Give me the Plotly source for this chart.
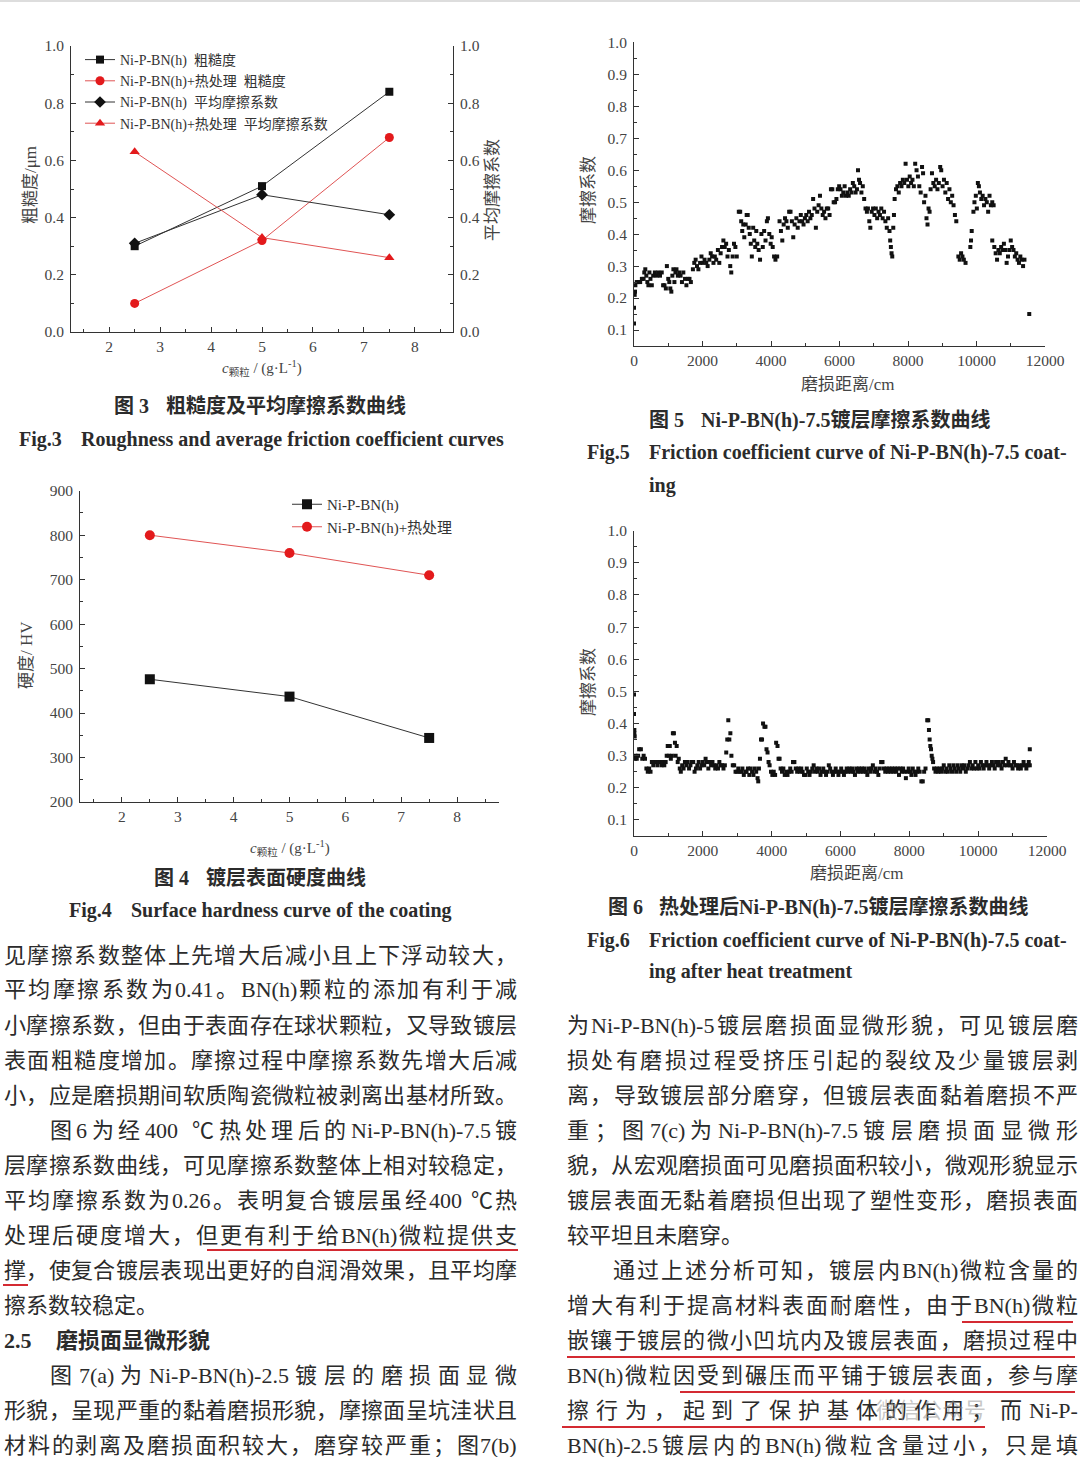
import plotly.graph_objects as go

W, H = 1080, 1457
FONT = "Liberation Serif, Noto Sans CJK SC, serif"
TXT = "#2b2b2b"
AX = "#444444"
RED = "#e31a1c"
RED_LINE = "#e05454"

# === Fig.3 : roughness / average friction coefficient ===
conc = [2.5, 5, 7.5]
rough_raw = [0.30, 0.51, 0.84]
rough_ht = [0.10, 0.32, 0.68]
fric_raw = [0.31, 0.48, 0.41]
fric_ht = [0.63, 0.33, 0.26]

# === Fig.4 : surface hardness ===
hard_raw = [476, 437, 344]
hard_ht = [800, 760, 710]

# === Fig.5 : friction coefficient of Ni-P-BN(h)-7.5 ===
fig5_dist = [
    0, 0, 20, 30, 40, 80, 130, 180, 230, 280,
    300, 330, 360, 390, 420, 450, 480, 520, 560, 610,
    660, 710, 760, 810, 850, 890, 930, 960, 1000, 1030,
    1060, 1090, 1120, 1150, 1180, 1210, 1240, 1280, 1320, 1360,
    1400, 1440, 1490, 1530, 1570, 1620, 1660,
    1720, 1760, 1800, 1840, 1880, 1930, 1970, 2010, 2060, 2110,
    2150, 2200, 2240, 2280, 2320, 2360, 2400, 2450, 2490, 2530,
    2570, 2610, 2650, 2690, 2730, 2770, 2810, 2840, 2880, 2920,
    2960, 3000,
    3060, 3100, 3130, 3160, 3190, 3220, 3260, 3290, 3320, 3350,
    3380, 3410, 3440, 3480, 3510, 3540, 3570, 3600, 3640, 3680,
    3720, 3760, 3800, 3840, 3880, 3910, 3950, 3990, 4020, 4050,
    4090, 4130, 4180,
    4250, 4290, 4330, 4370, 4410, 4450, 4490, 4530, 4570, 4610,
    4650, 4690, 4740, 4780, 4830, 4870, 4910, 4950, 4990, 5030,
    5070, 5110, 5150, 5190, 5230, 5270, 5310, 5350, 5390, 5430,
    5470, 5510, 5550, 5590, 5630, 5670, 5710, 5750, 5790, 5830,
    5870, 5910,
    5950, 5990, 6030, 6070, 6110, 6150, 6190, 6230, 6270, 6310,
    6350, 6390, 6430, 6470, 6510, 6540, 6570, 6600, 6640, 6680,
    6720, 6760, 6800, 6830, 6870, 6900, 6940, 6980, 7020, 7060,
    7100, 7140, 7180, 7220, 7260, 7300, 7340, 7380, 7420, 7460,
    7480, 7500, 7520, 7540, 7570, 7590, 7610,
    7650, 7690, 7730, 7770, 7810, 7850, 7890, 7930, 7970, 8010,
    8050, 8090, 8130, 8170, 8210, 8250, 8290, 8330, 8370, 8410,
    8440, 8470, 8510, 8540, 8570, 8600, 8630, 8660,
    8700, 8740, 8780, 8820, 8860, 8900, 8940, 8970, 9010, 9050,
    9090, 9130, 9170, 9210, 9250, 9290, 9330, 9370, 9410, 9470,
    9510, 9550, 9590, 9630, 9680,
    9820, 9840, 9860, 9910, 9940, 9980, 10010, 10040, 10070, 10100,
    10140, 10180, 10220, 10260, 10300, 10340, 10380, 10420, 10460, 10500,
    10460, 10520, 10560, 10600, 10640, 10680, 10720, 10760, 10800, 10840,
    10880, 10920, 10960, 11000, 11040, 11080, 11120, 11160, 11200, 11240,
    11280, 11320, 11360, 11400, 11540,
]
fig5_mu = [
    0.12, 0.17, 0.21, 0.22, 0.24, 0.25, 0.25, 0.25, 0.26, 0.26,
    0.28, 0.29, 0.27, 0.25, 0.24, 0.28, 0.26, 0.24, 0.27, 0.28,
    0.27, 0.28, 0.27, 0.28, 0.24, 0.24, 0.23, 0.30, 0.26, 0.25,
    0.23, 0.22, 0.27, 0.29, 0.25, 0.28, 0.29, 0.27, 0.28, 0.27,
    0.25, 0.28, 0.26, 0.24, 0.26, 0.26, 0.25,
    0.29, 0.31, 0.32, 0.30, 0.29, 0.31, 0.33, 0.31, 0.32, 0.31,
    0.30, 0.32, 0.34, 0.33, 0.31, 0.33, 0.32, 0.35, 0.31, 0.34,
    0.36, 0.38, 0.36, 0.37, 0.33, 0.35, 0.30, 0.28, 0.33, 0.37,
    0.36, 0.33,
    0.47, 0.47, 0.44, 0.41, 0.43, 0.39, 0.43, 0.46, 0.46, 0.42,
    0.40, 0.37, 0.33, 0.42, 0.38, 0.36, 0.41, 0.37, 0.35, 0.32,
    0.40, 0.36, 0.41, 0.38, 0.44, 0.45, 0.40, 0.37, 0.39, 0.36,
    0.33, 0.32, 0.33,
    0.44, 0.41, 0.38, 0.43, 0.45, 0.44, 0.42, 0.47, 0.47, 0.44,
    0.39, 0.43, 0.45, 0.42, 0.44, 0.46, 0.44, 0.43, 0.45, 0.46,
    0.44, 0.47, 0.45, 0.46, 0.51, 0.48, 0.42, 0.47, 0.49, 0.52,
    0.48, 0.46, 0.47, 0.45, 0.48, 0.48, 0.46, 0.54, 0.54, 0.50,
    0.50, 0.51,
    0.54, 0.55, 0.54, 0.52, 0.53, 0.55, 0.52, 0.53, 0.52, 0.54,
    0.53, 0.56, 0.55, 0.53, 0.54, 0.60, 0.57, 0.56, 0.53, 0.55,
    0.51, 0.48, 0.47, 0.48, 0.44, 0.42, 0.47, 0.48, 0.46, 0.48,
    0.45, 0.47, 0.46, 0.48, 0.45, 0.47, 0.44, 0.42, 0.45, 0.41,
    0.38, 0.36, 0.34, 0.33, 0.42, 0.46, 0.51,
    0.54, 0.55, 0.53, 0.56, 0.55, 0.57, 0.56, 0.62, 0.57, 0.55,
    0.58, 0.56, 0.57, 0.55, 0.62, 0.60, 0.58, 0.55, 0.53, 0.61,
    0.59, 0.50, 0.52, 0.45, 0.43, 0.48, 0.47, 0.54,
    0.59, 0.56, 0.55, 0.57, 0.54, 0.56, 0.61, 0.60, 0.55, 0.57,
    0.53, 0.56, 0.51, 0.54, 0.50, 0.52, 0.49, 0.46, 0.44, 0.33,
    0.32, 0.34, 0.33, 0.32, 0.31,
    0.36, 0.38, 0.41, 0.47, 0.50, 0.52, 0.48, 0.56, 0.55, 0.53,
    0.51, 0.52, 0.49, 0.51, 0.50, 0.47, 0.52, 0.49, 0.50, 0.49,
    0.38, 0.36, 0.34, 0.32, 0.35, 0.34, 0.36, 0.35, 0.37, 0.35,
    0.31, 0.33, 0.35, 0.38, 0.36, 0.35, 0.33, 0.34, 0.32, 0.31,
    0.33, 0.32, 0.30, 0.32, 0.15,
]

# === Fig.6 : friction coefficient after heat treatment ===
fig6_dist = [
    0, 0, 10, 10, 20, 30, 40, 80, 120, 150,
    200, 240, 280, 320, 360, 400, 440, 480, 520, 560,
    600, 640, 680, 720, 760, 800, 840, 880, 920, 950,
    980, 1010, 1040, 1070, 1100, 1130, 1160, 1190, 1210, 1240,
    1270, 1300, 1330, 1360, 1400, 1440, 1480, 1520, 1560, 1600,
    1640, 1680, 1720, 1760, 1800, 1840, 1880, 1920, 1960, 2000,
    2040, 2080, 2120, 2160, 2200, 2240, 2280, 2320, 2360, 2400,
    2440, 2480, 2520, 2560, 2600, 2640, 2680, 2710, 2740, 2770,
    2800, 2830, 2870, 2910, 2950, 2990, 3030, 3070, 3110, 3150,
    3190, 3230, 3270, 3310, 3350, 3390, 3430, 3470, 3510, 3550,
    3590, 3610, 3630, 3660, 3690, 3720, 3750, 3790, 3820, 3850,
    3880, 3910, 3940, 3980, 4020, 4060, 4100, 4130, 4170, 4200,
    4230, 4260, 4300, 4340, 4380, 4420, 4460, 4500, 4540, 4580,
    4620, 4660, 4700, 4740, 4780, 4820, 4860, 4900, 4940, 4980,
    5020, 5060, 5100, 5140, 5180, 5220, 5260, 5300, 5340, 5380,
    5420, 5460, 5500, 5540, 5580, 5620, 5660, 5700, 5740, 5780,
    5820, 5860, 5900, 5940, 5980, 6020, 6060, 6100, 6140, 6180,
    6220, 6260, 6300, 6340, 6380, 6420, 6460, 6500, 6540, 6580,
    6620, 6660, 6700, 6740, 6780, 6820, 6860, 6900, 6940, 6980,
    7020, 7060, 7100, 7140, 7180, 7220, 7260, 7300, 7340, 7380,
    7420, 7460, 7500, 7540, 7580, 7620, 7660, 7700, 7740, 7780,
    7820, 7860, 7900, 7940, 7980, 8020, 8060, 8100, 8140, 8180,
    8220, 8260, 8300, 8350, 8390, 8430, 8470, 8520, 8550, 8570,
    8590, 8610, 8630, 8650, 8670, 8690, 8720, 8760, 8800, 8840,
    8880, 8920, 8960, 9000, 9040, 9080, 9120, 9160, 9200, 9240,
    9280, 9320, 9360, 9400, 9440, 9480, 9520, 9560, 9600, 9640,
    9680, 9720, 9760, 9800, 9840, 9880, 9920, 9960, 10000, 10040,
    10080, 10120, 10160, 10200, 10240, 10280, 10320, 10360, 10400, 10440,
    10480, 10520, 10560, 10600, 10640, 10680, 10720, 10760, 10800, 10840,
    10880, 10920, 10960, 11000, 11040, 11080, 11120, 11160, 11200, 11240,
    11280, 11320, 11360, 11400, 11440, 11470, 11500, 11500,
]
fig6_mu = [
    0.49, 0.43, 0.38, 0.37, 0.36, 0.29, 0.30, 0.29, 0.30, 0.32,
    0.32, 0.29, 0.30, 0.29, 0.26, 0.25, 0.26, 0.25, 0.28, 0.27,
    0.28, 0.28, 0.27, 0.28, 0.28, 0.27, 0.28, 0.27, 0.28, 0.30,
    0.33, 0.30, 0.33, 0.29, 0.30, 0.37, 0.37, 0.34, 0.30, 0.33,
    0.28, 0.29, 0.26, 0.25, 0.27, 0.26, 0.28, 0.27, 0.28, 0.26,
    0.27, 0.28, 0.28, 0.25, 0.26, 0.27, 0.28, 0.26, 0.27, 0.28,
    0.27, 0.29, 0.28, 0.26, 0.28, 0.27, 0.28, 0.27, 0.26, 0.27,
    0.26, 0.28, 0.27, 0.27, 0.26, 0.27, 0.31, 0.35, 0.41, 0.35,
    0.37, 0.30, 0.27, 0.27, 0.25, 0.25, 0.26, 0.25, 0.25, 0.26,
    0.24, 0.25, 0.25, 0.26, 0.24, 0.26, 0.25, 0.24, 0.26, 0.25,
    0.23, 0.22, 0.26, 0.29, 0.35, 0.35, 0.40, 0.39, 0.39, 0.32,
    0.31, 0.28, 0.27, 0.25, 0.24, 0.25, 0.24, 0.34, 0.33, 0.29,
    0.29, 0.26, 0.25, 0.26, 0.24, 0.25, 0.24, 0.25, 0.26, 0.25,
    0.28, 0.28, 0.26, 0.25, 0.26, 0.25, 0.26, 0.25, 0.24, 0.24,
    0.26, 0.25, 0.24, 0.25, 0.26, 0.27, 0.25, 0.26, 0.25, 0.26,
    0.24, 0.25, 0.26, 0.25, 0.24, 0.25, 0.27, 0.26, 0.25, 0.24,
    0.25, 0.26, 0.25, 0.24, 0.25, 0.26, 0.25, 0.24, 0.25, 0.26,
    0.25, 0.26, 0.25, 0.26, 0.25, 0.24, 0.26, 0.25, 0.26, 0.25,
    0.26, 0.25, 0.26, 0.25, 0.24, 0.26, 0.25, 0.26, 0.27, 0.25,
    0.26, 0.25, 0.24, 0.26, 0.28, 0.28, 0.26, 0.25, 0.26, 0.25,
    0.26, 0.25, 0.26, 0.25, 0.26, 0.25, 0.26, 0.24, 0.26, 0.25,
    0.26, 0.25, 0.23, 0.25, 0.26, 0.25, 0.24, 0.26, 0.25, 0.24,
    0.25, 0.26, 0.25, 0.22, 0.22, 0.25, 0.26, 0.41, 0.41, 0.38,
    0.35, 0.33, 0.32, 0.30, 0.29, 0.28, 0.26, 0.25, 0.26, 0.25,
    0.26, 0.25, 0.26, 0.27, 0.25, 0.26, 0.25, 0.27, 0.26, 0.25,
    0.27, 0.26, 0.25, 0.27, 0.26, 0.25, 0.27, 0.26, 0.27, 0.25,
    0.26, 0.27, 0.28, 0.26, 0.27, 0.26, 0.28, 0.26, 0.27, 0.26,
    0.28, 0.27, 0.26, 0.27, 0.28, 0.27, 0.26, 0.27, 0.28, 0.27,
    0.26, 0.28, 0.27, 0.28, 0.27, 0.26, 0.28, 0.27, 0.29, 0.27,
    0.28, 0.27, 0.27, 0.26, 0.28, 0.27, 0.27, 0.26, 0.27, 0.26,
    0.27, 0.28, 0.27, 0.26, 0.27, 0.28, 0.32, 0.27,
]

# tick labels
conc_ticks = [2, 3, 4, 5, 6, 7, 8]
unit_ticks = [0.0, 0.2, 0.4, 0.6, 0.8, 1.0]
hv_ticks = [200, 300, 400, 500, 600, 700, 800, 900]
dist_ticks = [0, 2000, 4000, 6000, 8000, 10000, 12000]
mu_ticks = [0.1, 0.2, 0.3, 0.4, 0.5, 0.6, 0.7, 0.8, 0.9, 1.0]

# body text lines (left column, right column)
left_lines = [
    "见摩擦系数整体上先增大后减小且上下浮动较大，",
    "平均摩擦系数为0.41。BN(h)颗粒的添加有利于减",
    "小摩擦系数，但由于表面存在球状颗粒，又导致镀层",
    "表面粗糙度增加。摩擦过程中摩擦系数先增大后减",
    "小，应是磨损期间软质陶瓷微粒被剥离出基材所致。",
    "图6为经400 ℃热处理后的Ni-P-BN(h)-7.5镀",
    "层摩擦系数曲线，可见摩擦系数整体上相对较稳定，",
    "平均摩擦系数为0.26。表明复合镀层虽经400 ℃热",
    "处理后硬度增大，但更有利于给BN(h)微粒提供支",
    "撑，使复合镀层表现出更好的自润滑效果，且平均摩",
    "擦系数较稳定。",
    None,
    "图7(a)为Ni-P-BN(h)-2.5镀层的磨损面显微",
    "形貌，呈现严重的黏着磨损形貌，摩擦面呈坑洼状且",
    "材料的剥离及磨损面积较大，磨穿较严重；图7(b)",
]
right_lines = [
    "为Ni-P-BN(h)-5镀层磨损面显微形貌，可见镀层磨",
    "损处有磨损过程受挤压引起的裂纹及少量镀层剥",
    "离，导致镀层部分磨穿，但镀层表面黏着磨损不严",
    "重；图7(c)为Ni-P-BN(h)-7.5镀层磨损面显微形",
    "貌，从宏观磨损面可见磨损面积较小，微观形貌显示",
    "镀层表面无黏着磨损但出现了塑性变形，磨损表面",
    "较平坦且未磨穿。",
    "通过上述分析可知，镀层内BN(h)微粒含量的",
    "增大有利于提高材料表面耐磨性，由于BN(h)微粒",
    "嵌镶于镀层的微小凹坑内及镀层表面，磨损过程中",
    "BN(h)微粒因受到碾压而平铺于镀层表面，参与摩",
    "擦行为，起到了保护基体的作用；而Ni-P-",
    "BN(h)-2.5镀层内的BN(h)微粒含量过小，只是填",
]


def px(x):
    return x / W


def py(y):
    return 1 - y / H


annotations = []
shapes = []


def note(text, x, y, size=14, anchor="left", angle=0, color=TXT, bold=False):
    if bold:
        text = "<b>" + text + "</b>"
    annotations.append(dict(
        text=text, x=px(x), y=py(y), xref="paper", yref="paper",
        xanchor=anchor, yanchor="middle", showarrow=False, textangle=angle,
        borderpad=0, font=dict(family=FONT, size=size, color=color),
    ))


# rough Times-like advance widths, in em
LATIN_W = {".": 0.25, ",": 0.25, "(": 0.333, ")": 0.333, "-": 0.333, " ": 0.25,
           "N": 0.722, "B": 0.667, "P": 0.556, "C": 0.667, "i": 0.278,
           "a": 0.444, "c": 0.444}


def tokens(s):
    out, buf = [], ""
    for ch in s:
        if ord(ch) < 128 and ch != " ":
            buf += ch
        else:
            if buf:
                out.append(buf)
                buf = ""
            out.append(ch)
    if buf:
        out.append(buf)
    return out


def tok_width(t, size):
    return sum(LATIN_W.get(c, 0.5) if ord(c) < 128 else 1.0 for c in t) * size


def body_line(s, x0, x1, y, size=22, justify=True):
    toks = tokens(s)
    ws = [tok_width(t, size) for t in toks]
    gap = (x1 - x0 - sum(ws)) / (len(toks) - 1) if justify and len(toks) > 1 else 0
    x = x0
    for t, w in zip(toks, ws):
        if t.strip():
            note(t, x, y, size=size)
        x += w + gap


fig = go.Figure()

# --- Fig.3 traces
fig.add_trace(go.Scatter(
    x=conc, y=rough_raw, name="Ni-P-BN(h)\u00a0\u00a0粗糙度", mode="lines+markers",
    line=dict(color="#333", width=1), marker=dict(symbol="square", size=8, color="#111"),
    xaxis="x", yaxis="y", legend="legend"))
fig.add_trace(go.Scatter(
    x=conc, y=rough_ht, name="Ni-P-BN(h)+热处理\u00a0\u00a0粗糙度", mode="lines+markers",
    line=dict(color=RED_LINE, width=1), marker=dict(symbol="circle", size=9, color=RED),
    xaxis="x", yaxis="y", legend="legend"))
fig.add_trace(go.Scatter(
    x=conc, y=fric_raw, name="Ni-P-BN(h)\u00a0\u00a0平均摩擦系数", mode="lines+markers",
    line=dict(color="#333", width=1), marker=dict(symbol="diamond", size=9, color="#111"),
    xaxis="x", yaxis="y2", legend="legend"))
fig.add_trace(go.Scatter(
    x=conc, y=fric_ht, name="Ni-P-BN(h)+热处理\u00a0\u00a0平均摩擦系数", mode="lines+markers",
    line=dict(color=RED_LINE, width=1), marker=dict(symbol="triangle-up", size=9, color=RED),
    xaxis="x", yaxis="y2", legend="legend"))

# --- Fig.4 traces
fig.add_trace(go.Scatter(
    x=conc, y=hard_raw, name="Ni-P-BN(h)", mode="lines+markers",
    line=dict(color="#333", width=1), marker=dict(symbol="square", size=10, color="#111"),
    xaxis="x2", yaxis="y3", legend="legend2"))
fig.add_trace(go.Scatter(
    x=conc, y=hard_ht, name="Ni-P-BN(h)+热处理", mode="lines+markers",
    line=dict(color=RED_LINE, width=1), marker=dict(symbol="circle", size=10, color=RED),
    xaxis="x2", yaxis="y3", legend="legend2"))

# --- Fig.5 / Fig.6 scatter
fig.add_trace(go.Scatter(
    x=fig5_dist, y=fig5_mu, mode="markers", showlegend=False,
    marker=dict(symbol="square", size=4, color="#111"), xaxis="x3", yaxis="y4"))
fig.add_trace(go.Scatter(
    x=fig6_dist, y=fig6_mu, mode="markers", showlegend=False,
    marker=dict(symbol="square", size=4, color="#111"), xaxis="x4", yaxis="y5"))


def axis(**kw):
    d = dict(showline=True, linecolor="#333", linewidth=1, ticks="inside", ticklen=5,
             tickwidth=1, tickcolor="#333", showgrid=False, zeroline=False, automargin=False,
             ticklabelstandoff=3, tickfont=dict(family=FONT, size=15.5, color=AX))
    d.update(kw)
    return d


def xaxis(**kw):
    return axis(ticklabelstandoff=0, **kw)


def minor(step):
    return dict(ticks="inside", ticklen=3, tickcolor="#333", dtick=step, tick0=0, showgrid=False)


fig.update_layout(
    width=W, height=H, autosize=False,
    margin=dict(l=0, r=0, t=0, b=0, pad=0, autoexpand=False),
    paper_bgcolor="white", plot_bgcolor="white",
    xaxis=xaxis(domain=[px(71), px(453)], range=[1.25, 8.75], tickmode="array",
                tickvals=conc_ticks, minor=minor(0.5), anchor="y"),
    yaxis=axis(domain=[py(332), py(46)], range=[0, 1], tickmode="array",
               tickvals=unit_ticks, tickformat=".1f", minor=minor(0.1), anchor="x"),
    yaxis2=axis(overlaying="y", side="right", anchor="x", range=[0, 1], tickmode="array",
                tickvals=unit_ticks, tickformat=".1f", minor=minor(0.1)),
    xaxis2=xaxis(domain=[px(80), px(499)], range=[1.25, 8.75], tickmode="array",
                 tickvals=conc_ticks, minor=minor(0.5), anchor="y3"),
    yaxis3=axis(domain=[py(802), py(490.7)], range=[200, 900], tickmode="array",
                tickvals=hv_ticks, minor=minor(50), anchor="x2"),
    xaxis3=xaxis(domain=[px(634), px(1045)], range=[0, 12000], tickmode="array",
                 tickvals=dist_ticks, tickformat="d", minor=minor(1000), anchor="y4"),
    yaxis4=axis(domain=[py(346), py(42.3)], range=[0.05, 1.0], tickmode="array",
                tickvals=mu_ticks, tickformat=".1f", minor=minor(0.05), anchor="x3"),
    xaxis4=xaxis(domain=[px(634), px(1047)], range=[0, 12000], tickmode="array",
                 tickvals=dist_ticks, tickformat="d", minor=minor(1000), anchor="y5"),
    yaxis5=axis(domain=[py(836), py(530.7)], range=[0.05, 1.0], tickmode="array",
                tickvals=mu_ticks, tickformat=".1f", minor=minor(0.05), anchor="x4"),
    legend=dict(x=px(80), y=py(44), xanchor="left", yanchor="top",
                bgcolor="rgba(0,0,0,0)", itemwidth=30, tracegroupgap=0,
                font=dict(family=FONT, size=14, color="#333")),
    legend2=dict(x=px(287), y=py(488), xanchor="left", yanchor="top",
                 bgcolor="rgba(0,0,0,0)", itemwidth=30,
                 font=dict(family=FONT, size=15, color="#333")),
)

# --- axis titles
xt = "<i>c</i><sub>颗粒</sub> / (g·L<sup>-1</sup>)"
note("粗糙度/μm", 30, 185, size=17, anchor="center", angle=-90, color=AX)
note("平均摩擦系数", 492, 190, size=17, anchor="center", angle=-90, color=AX)
note(xt, 262, 368, size=15, anchor="center", color=AX)
note("硬度/ HV", 27, 655, size=17, anchor="center", angle=-90, color=AX)
note(xt, 290, 848, size=15, anchor="center", color=AX)
note("摩擦系数", 588, 190, size=17, anchor="center", angle=-90, color=AX)
note("磨损距离/cm", 848, 385, size=17, anchor="center", color=AX)
note("摩擦系数", 588, 682, size=17, anchor="center", angle=-90, color=AX)
note("磨损距离/cm", 857, 873, size=17, anchor="center", color=AX)

# --- captions
CN, EN = 20, 20
note("图 3", 113, 406, size=CN, bold=True)
note("粗糙度及平均摩擦系数曲线", 165, 406, size=CN, bold=True)
note("Fig.3", 18, 439, size=EN, bold=True)
note("Roughness and average friction coefficient curves", 80, 439, size=EN, bold=True)
note("图 4", 153, 878, size=CN, bold=True)
note("镀层表面硬度曲线", 205, 878, size=CN, bold=True)
note("Fig.4", 68, 910, size=EN, bold=True)
note("Surface hardness curve of the coating", 130, 910, size=EN, bold=True)
note("图 5", 648, 420, size=CN, bold=True)
note("Ni-P-BN(h)-7.5镀层摩擦系数曲线", 700, 420, size=CN, bold=True)
note("Fig.5", 586, 453, size=EN, bold=True)
note("Friction coefficient curve of Ni-P-BN(h)-7.5 coat-", 648, 453, size=EN, bold=True)
note("ing", 648, 485, size=EN, bold=True)
note("图 6", 607, 907, size=CN, bold=True)
note("热处理后Ni-P-BN(h)-7.5镀层摩擦系数曲线", 658, 907, size=CN, bold=True)
note("Fig.6", 586, 940, size=EN, bold=True)
note("Friction coefficient curve of Ni-P-BN(h)-7.5 coat-", 648, 940, size=EN, bold=True)
note("ing after heat treatment", 648, 971, size=EN, bold=True)

# --- body text
short_left = {10}
indent_left = {5, 12}
for i, s in enumerate(left_lines):
    y = 955 + 35 * i
    if s is None:
        note("2.5", 3, y, size=22, bold=True)
        note("磨损面显微形貌", 55, y, size=22, bold=True)
        continue
    x0 = 49 if i in indent_left else 3
    body_line(s, x0, 516, y, justify=i not in short_left)

short_right = {6}
indent_right = {7}
for i, s in enumerate(right_lines):
    y = 1025 + 35 * i
    x0 = 612 if i in indent_right else 566
    body_line(s, x0, 1077, y, justify=i not in short_right)

# watermark
note("微信公众号", 875, 1410, size=22, color="rgba(150,150,150,0.55)")

# red underlines and top rule
for x0, x1, y in [(207, 518, 1250), (3, 28, 1285), (962, 1073, 1322),
                  (567, 1075, 1357), (680, 1075, 1392), (562, 985, 1427)]:
    shapes.append(dict(type="line", xref="paper", yref="paper", x0=px(x0), x1=px(x1),
                       y0=py(y), y1=py(y), line=dict(color="#d42a32", width=2)))
shapes.append(dict(type="line", xref="paper", yref="paper", x0=0, x1=1, y0=py(1), y1=py(1),
                   line=dict(color="#bbbbbb", width=1)))

fig.update_layout(annotations=annotations, shapes=shapes)

# page without body margin so the figure fills the window exactly
fig.write_html("out.html", config={"displayModeBar": False},
               post_script="document.body.style.margin='0';document.body.style.overflow='hidden';")
